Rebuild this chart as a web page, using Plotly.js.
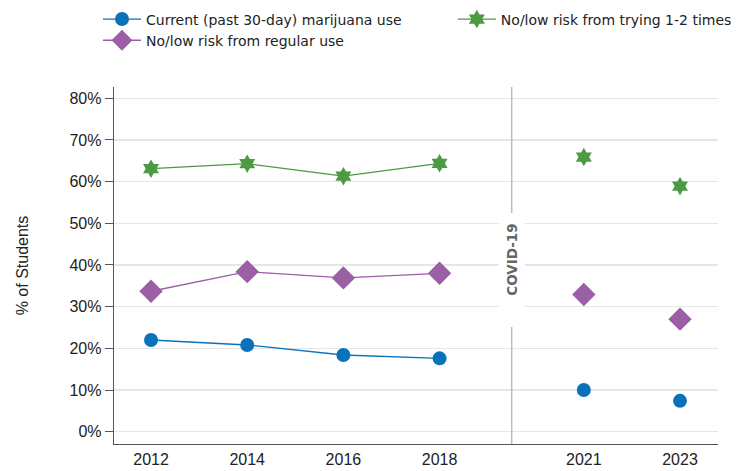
<!DOCTYPE html>
<html>
<head>
<meta charset="utf-8">
<script src="https://cdn.plot.ly/plotly-3.0.1.min.js"></script>
<style>html,body{margin:0;padding:0;background:#fff;}#chart{width:747px;height:471px;}</style>
</head>
<body>
<div id="chart"></div>
<script>
// Data
const years = [2012, 2014, 2016, 2018, 2021, 2023];
const currentUse = [22.0, 20.8, 18.4, 17.6, 10.0, 7.4];
const riskTrying = [63.1, 64.3, 61.3, 64.4, 65.9, 58.9];
const riskRegular = [33.7, 38.4, 36.9, 38.0, 32.9, 27.0];
const seriesNames = ["Current (past 30-day) marijuana use", "No/low risk from trying 1-2 times", "No/low risk from regular use"];
const yTickVals = [0, 10, 20, 30, 40, 50, 60, 70, 80];
const yTickText = ["0%", "10%", "20%", "30%", "40%", "50%", "60%", "70%", "80%"];
const covidYear = 2019.5;
const covidLabel = "COVID-19";

const series = [
  {name: seriesNames[0], y: currentUse, color: "#0a72ba", symbol: "circle", size: 14, legend: "legend"},
  {name: seriesNames[1], y: riskTrying, color: "#4c9a43", symbol: "hexagram", size: 14, legend: "legend2"},
  {name: seriesNames[2], y: riskRegular, color: "#9b5fa5", symbol: "diamond", size: 18, legend: "legend"}
];

const split = years.findIndex(y => y > covidYear);
const traces = [];
series.forEach((s, i) => {
  traces.push({
    x: years.slice(0, split), y: s.y.slice(0, split), name: s.name,
    mode: "lines+markers", type: "scatter", legendgroup: "g" + i, legend: s.legend,
    line: {color: s.color, width: 1.3},
    marker: {color: s.color, symbol: s.symbol, size: s.size, line: {width: 0}},
    hoverinfo: "x+y"
  });
});
series.forEach((s, i) => {
  traces.push({
    x: years.slice(split), y: s.y.slice(split), name: s.name,
    mode: "markers", type: "scatter", legendgroup: "g" + i, showlegend: false, legend: s.legend,
    marker: {color: s.color, symbol: s.symbol, size: s.size, line: {width: 0}},
    hoverinfo: "x+y"
  });
});

const legendFont = {family: "DejaVu Sans, Verdana, sans-serif", size: 14, color: "#222"};
const layout = {
  width: 747, height: 471,
  margin: {l: 114, r: 29, t: 87, b: 27, autoexpand: false},
  paper_bgcolor: "#fff", plot_bgcolor: "#fff",
  font: {family: "Liberation Sans, Arial, sans-serif", size: 16, color: "#222"},
  showlegend: true,
  legend: {
    orientation: "v", x: -0.0265, xanchor: "left", y: 1.234, yanchor: "top",
    font: legendFont, traceorder: "normal", tracegroupgap: 0, itemclick: false, itemwidth: 38
  },
  legend2: {
    orientation: "v", x: 0.561, xanchor: "left", y: 1.234, yanchor: "top",
    font: legendFont, traceorder: "normal", tracegroupgap: 0, itemclick: false, itemwidth: 38
  },
  xaxis: {
    range: [2011.23, 2023.79], tickvals: years, ticktext: years.map(String),
    showgrid: false, zeroline: false, showline: true, linecolor: "#555", linewidth: 1.3,
    ticks: "", tickfont: {size: 16, color: "#222"}, fixedrange: true, automargin: false
  },
  yaxis: {
    range: [-2.95, 82.7], tickvals: yTickVals, ticktext: yTickText,
    showgrid: true, gridcolor: "#e6e6e6", gridwidth: 1.5, zeroline: false,
    showline: true, linecolor: "#555", linewidth: 1.3,
    ticks: "outside", ticklen: 8, tickcolor: "#555", tickwidth: 1,
    tickfont: {size: 16, color: "#222"}, automargin: false,
    title: {text: "% of Students", font: {size: 16, color: "#222"}, standoff: 37},
    fixedrange: true
  },
  shapes: [
    {type: "line", xref: "x", yref: "paper", x0: covidYear, x1: covidYear, y0: 0, y1: 1,
     line: {color: "#bdbdbd", width: 1.5}, layer: "above"},
    {type: "rect", xref: "x", yref: "y", x0: covidYear - 0.27, x1: covidYear + 0.27, y0: 25.1, y1: 52.5,
     fillcolor: "#fff", line: {width: 0}, layer: "above"}
  ],
  annotations: [
    {x: covidYear, y: 41.2, xref: "x", yref: "y", text: "<b>" + covidLabel + "</b>",
     showarrow: false, textangle: -90,
     font: {family: "DejaVu Sans, Verdana, sans-serif", size: 13.5, color: "#666"}}
  ]
};

Plotly.newPlot("chart", traces, layout, {displayModeBar: false, staticPlot: true});
</script>
</body>
</html>
